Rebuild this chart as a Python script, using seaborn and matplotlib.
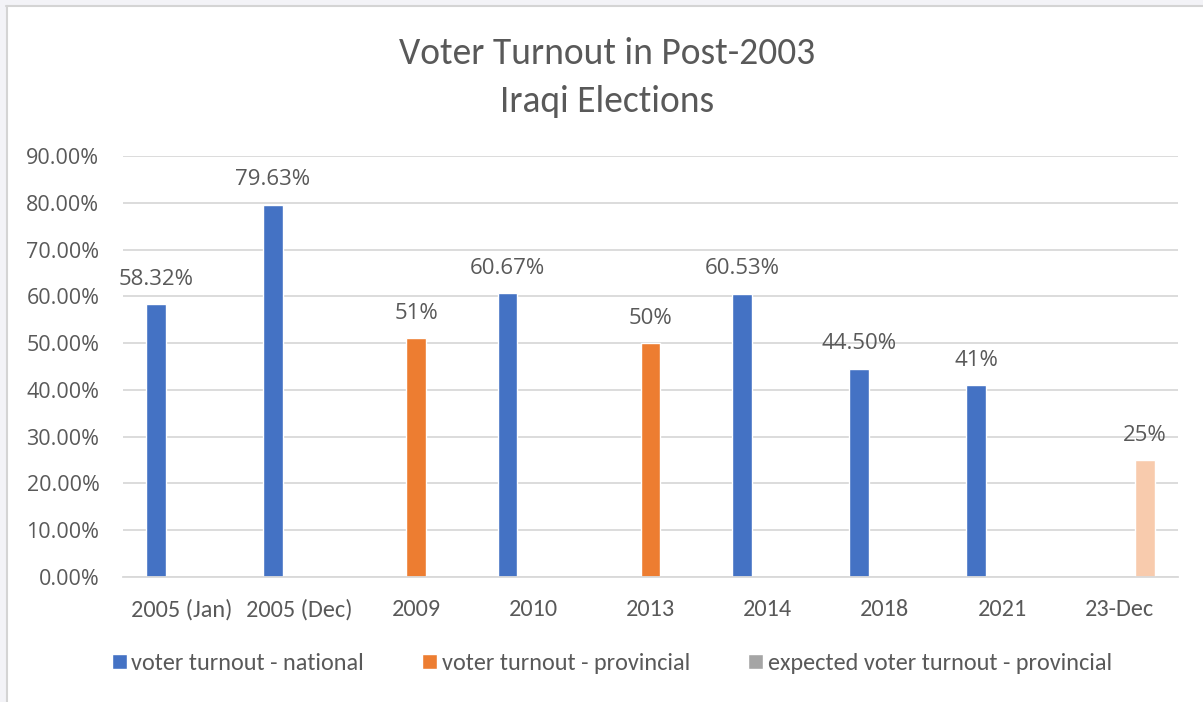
import matplotlib
matplotlib.use("Agg")
import matplotlib.pyplot as plt
from matplotlib.patches import Rectangle
import seaborn as sns
import pandas as pd
import numpy as np

# Election dates (category axis)
elections = ["2005 (Jan)", "2005 (Dec)", "2009", "2010", "2013",
             "2014", "2018", "2021", "23-Dec"]

# Turnout per series (NaN where a series has no value for that election)
national = [0.5832, 0.7963, np.nan, 0.6067, np.nan, 0.6053, 0.4450, 0.41, np.nan]
provincial = [np.nan, np.nan, 0.51, np.nan, 0.50, np.nan, np.nan, np.nan, np.nan]
expected_provincial = [np.nan, np.nan, np.nan, np.nan, np.nan, np.nan, np.nan, np.nan, 0.25]

# Number of decimals shown in each data label
national_decimals = [2, 2, None, 2, None, 2, 2, 0, None]
provincial_decimals = [None, None, 0, None, 0, None, None, None, None]
expected_decimals = [None] * 8 + [0]

series_names = ["voter turnout - national",
                "voter turnout - provincial",
                "expected voter turnout - provincial"]
series_colors = ["#4472C4", "#ED7D31", "#A5A5A5"]
expected_bar_color = "#F8CBAD"

df = pd.concat([
    pd.DataFrame({"election": elections, "turnout": vals, "decimals": decs, "series": name})
    for vals, decs, name in zip([national, provincial, expected_provincial],
                                [national_decimals, provincial_decimals, expected_decimals],
                                series_names)
], ignore_index=True)
values = df.dropna(subset=["turnout"]).set_index("election")

sns.set_theme(style="white")
narrow = ["Carlito", "Liberation Sans Narrow", "Open Sans", "DejaVu Sans"]
wide = ["Open Sans", "DejaVu Sans"]
plt.rcParams["font.family"] = wide
text_color = "#595959"

fig = plt.figure(figsize=(12.03, 7.02), dpi=100)
fig.patch.set_facecolor("white")
ax = fig.add_axes([123 / 1203, 1 - 577 / 702, (1178 - 123) / 1203, (577 - 156) / 702])

sns.barplot(data=df, x="election", y="turnout", hue="series", order=elections,
            hue_order=series_names, palette=series_colors, width=0.66, gap=0.23,
            dodge=True, errorbar=None, legend=False, ax=ax, saturation=1)

# Data labels above each drawn bar (one bar per election)
for bar in ax.patches:
    if not np.isfinite(bar.get_height()) or bar.get_height() <= 0:
        continue
    cx = bar.get_x() + bar.get_width() / 2
    row = values.loc[elections[int(round(cx))]]
    if row["series"] == series_names[2]:
        bar.set_facecolor(expected_bar_color)
    label = f"{row['turnout'] * 100:.{int(row['decimals'])}f}%"
    ax.annotate(label, (cx, bar.get_height()), xytext=(0, 18), textcoords="offset points",
                ha="center", va="center", fontsize=16, color=text_color, family=wide)

ax.set_ylim(0, 0.9)
ax.set_xlim(-0.5, len(elections) - 0.5)
yticks = np.arange(0, 0.91, 0.1)
ax.set_yticks(yticks)
ax.set_yticklabels([f"{v * 100:.2f}%" for v in yticks])
ax.yaxis.grid(True, color="#D9D9D9", linewidth=1.3)
ax.set_axisbelow(True)
for side in ["top", "right", "left"]:
    ax.spines[side].set_visible(False)
ax.spines["bottom"].set_color("#D9D9D9")
ax.spines["bottom"].set_linewidth(1.3)
ax.tick_params(axis="y", length=0, pad=17, labelsize=15.5, labelcolor=text_color)
ax.tick_params(axis="x", length=0, pad=16, labelcolor=text_color)
for t in ax.get_yticklabels():
    t.set_fontfamily(wide)
for t in ax.get_xticklabels():
    t.set_fontfamily(narrow)
    t.set_fontsize(17.5)
ax.set_xlabel("")
ax.set_ylabel("")

# Two-line title
fig.text(0.505, 1 - 54 / 702, "Voter Turnout in Post-2003", ha="center", va="center",
         fontsize=27, color=text_color, family=narrow)
fig.text(0.505, 1 - 102 / 702, "Iraqi Elections", ha="center", va="center",
         fontsize=27, color=text_color, family=narrow)

# Legend
handles = [Rectangle((0, 0), 1, 1, facecolor=c) for c in series_colors]
fig.legend(handles, series_names, loc="center", bbox_to_anchor=(612 / 1203, 1 - 664 / 702),
           ncol=3, frameon=False, prop={"family": narrow, "size": 17.5},
           labelcolor=text_color, handlelength=0.6, handleheight=0.58,
           handletextpad=0.2, columnspacing=2.4)

# Outer frame of the chart area
fig.patches.append(Rectangle((0, 1 - 5 / 702), 1, 5 / 702, transform=fig.transFigure,
                             facecolor="#F3F3F7", edgecolor="none", zorder=0))
fig.patches.append(Rectangle((0, 0), 6 / 1203, 1, transform=fig.transFigure,
                             facecolor="#F3F3F7", edgecolor="none", zorder=0))
fig.lines.append(plt.Line2D([6 / 1203, 1], [1 - 6 / 702, 1 - 6 / 702],
                            transform=fig.transFigure, color="#D4D4D4", linewidth=1.5))
fig.lines.append(plt.Line2D([7 / 1203, 7 / 1203], [0, 1 - 6 / 702],
                            transform=fig.transFigure, color="#D4D4D4", linewidth=1.5))

fig.savefig("out.png", dpi=100)
